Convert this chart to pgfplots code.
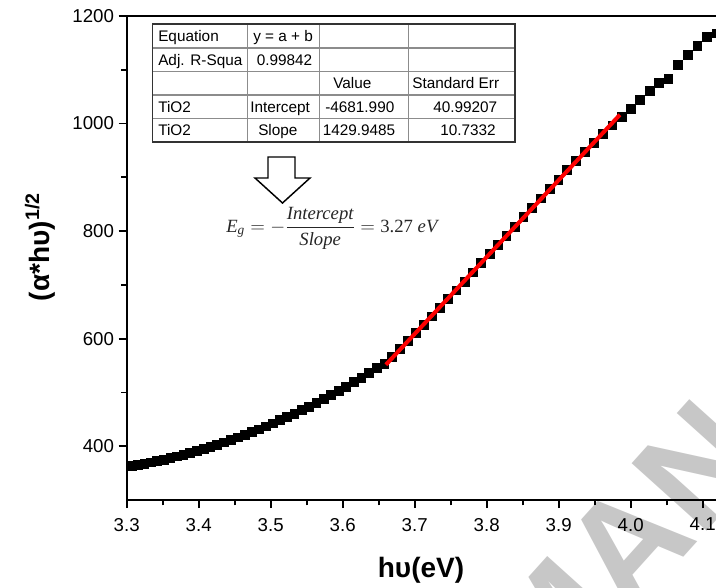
\documentclass[border=0pt]{standalone}
\usepackage{fontspec}
\setmainfont{Liberation Sans}
\newfontfamily\eqfont{Liberation Serif}
\usepackage{pgfplots}
\usepackage{pgfplotstable}
\pgfplotsset{compat=1.18}

% Tauc plot data: photon energy (eV) vs (alpha*h nu)^(1/2)
\pgfplotstableread{
E y
3.2979 361.5
3.3067 363.5
3.3155 365.5
3.3244 367.8
3.3333 370.2
3.3423 372.7
3.3514 375.4
3.3604 378.3
3.3696 381.3
3.3787 384.5
3.3880 387.9
3.3973 391.4
3.4066 395.1
3.4160 399.1
3.4254 403.1
3.4349 407.4
3.4444 411.8
3.4540 416.5
3.4637 421.3
3.4734 426.3
3.4831 431.5
3.4930 437.0
3.5028 442.6
3.5127 448.5
3.5227 454.5
3.5328 460.8
3.5429 467.3
3.5530 474.0
3.5632 481.0
3.5735 488.1
3.5838 495.5
3.5942 503.2
3.6047 511.1
3.6152 519.2
3.6257 528.0
3.6364 537.0
3.6471 545.5
3.6578 553.0
3.6686 566.0
3.6795 581.0
3.6905 596.0
3.7015 611.0
3.7126 626.0
3.7237 641.5
3.7349 657.5
3.7462 673.5
3.7576 690.0
3.7690 706.5
3.7805 723.5
3.7920 740.5
3.8037 757.5
3.8154 774.5
3.8272 791.5
3.8390 808.5
3.8509 826.0
3.8629 843.5
3.8750 861.0
3.8871 878.5
3.8994 896.0
3.9117 913.5
3.9241 930.5
3.9365 948.0
3.9490 965.0
3.9617 980.5
3.9744 997.0
3.9871 1013.0
4.0000 1027.0
4.0129 1044.0
4.0260 1061.0
4.0391 1076.0
4.0523 1084.0
4.0656 1109.0
4.0789 1128.0
4.0924 1144.0
4.1060 1161.0
4.1196 1168.0
}\tauc

% page frame in 0.75pt units, origin at the top-left corner
\tikzset{frame/.style={x=0.75pt, y=-0.75pt, shift={(-95.025pt,375pt)}}}

\begin{document}
\begin{tikzpicture}
% light watermark behind the plot
\begin{scope}[frame]
  \node[rotate=48, text=black!22, font=\bfseries\fontsize{110}{110}\selectfont, inner sep=0pt]
    at (622,550) {MAN};
\end{scope}

\begin{axis}[
  at={(0,0)}, anchor=south west,
  scale only axis,
  width=448.2pt, height=363pt,
  xmin=3.3, xmax=4.13, ymin=300, ymax=1200,
  xtick={3.3,3.4,3.5,3.6,3.7,3.8,3.9,4.0,4.1},
  minor xtick={3.35,3.45,3.55,3.65,3.75,3.85,3.95,4.05},
  ytick={400,600,800,1000,1200},
  minor ytick={500,700,900,1100},
  xtick pos=bottom, ytick pos=left,
  tick align=outside,
  major tick length=6pt, minor tick length=4pt,
  every tick/.style={black, line width=1.3pt},
  axis line style={line width=1.6pt},
  ticklabel style={font=\fontsize{14}{16}\selectfont},
  xticklabel style={yshift=-4pt, /pgf/number format/.cd, fixed, fixed zerofill, precision=1},
  /pgf/number format/1000 sep={},
  /pgf/number format/assume math mode=true,
  scaled ticks=false,
  clip marker paths=true,
]
\addplot[only marks, mark=square*, mark size=3.3pt, black] table[x=E, y=y] {\tauc};
\addplot[red, line width=3pt] coordinates {(3.66,551.6) (3.985,1016.4)};
\end{axis}

\begin{scope}[frame]
  % fit results table
  \fill[white] (152.5,24) rectangle (515,142);
  \draw[black!45, line width=0.8pt]
    (247.5,24) -- (247.5,142) (319.5,24) -- (319.5,142) (408.5,24) -- (408.5,142)
    (152.5,48) -- (515,48) (152.5,71.5) -- (515,71.5)
    (152.5,95) -- (515,95) (152.5,118.5) -- (515,118.5);
  \draw[black!80, line width=0.9pt] (152.5,24) rectangle (515,142);
  \begin{scope}[every node/.style={anchor=base west, inner sep=0pt, font=\fontsize{11.5}{13}\selectfont}]
    \node at (158,41.5) {Equation};
    \node at (253,41.5) {y = a + b};
    \node at (158,65.2) {Adj. R-Squa};
    \node at (256.5,65.2) {0.99842};
    \node at (333,88.7) {Value};
    \node at (412,88.7) {Standard Err};
    \node at (158,112.2) {TiO2};
    \node at (250,112.2) {Intercept};
    \node at (325,112.2) {-4681.990};
    \node at (433,112.2) {40.99207};
    \node at (158,135.7) {TiO2};
    \node at (258,135.7) {Slope};
    \node at (322.5,135.7) {1429.9485};
    \node at (440,135.7) {10.7332};
  \end{scope}

  % hollow arrow
  \draw[black, line width=1.1pt, fill=white, line join=miter]
    (268,157) -- (295,157) -- (295,178) -- (310,178) -- (282.5,203)
    -- (255,178) -- (268,178) -- cycle;

  % band gap expression
  \node[anchor=west, inner sep=0pt, text=black!85, font=\fontsize{14}{16}\selectfont]
    at (226,228) {$\displaystyle
      \mbox{\eqfont\itshape E}_{\mbox{\eqfont\itshape\fontsize{10}{11}\selectfont g}}
      =-\frac{\mbox{\eqfont\itshape Intercept}}{\mbox{\eqfont\itshape Slope}}
      =\mbox{\eqfont 3.27 \itshape eV}$};

  % axis titles
  \node[rotate=90, font=\bfseries\fontsize{21}{24}\selectfont] at (40,247)
    {(α*hυ)\textsuperscript{1/2}};
  \node[anchor=base, font=\bfseries\fontsize{21}{24}\selectfont] at (421,577) {hυ(eV)};

  \pgfresetboundingbox
  \useasboundingbox (0,0) rectangle (716,587);
\end{scope}
\end{tikzpicture}
\end{document}
